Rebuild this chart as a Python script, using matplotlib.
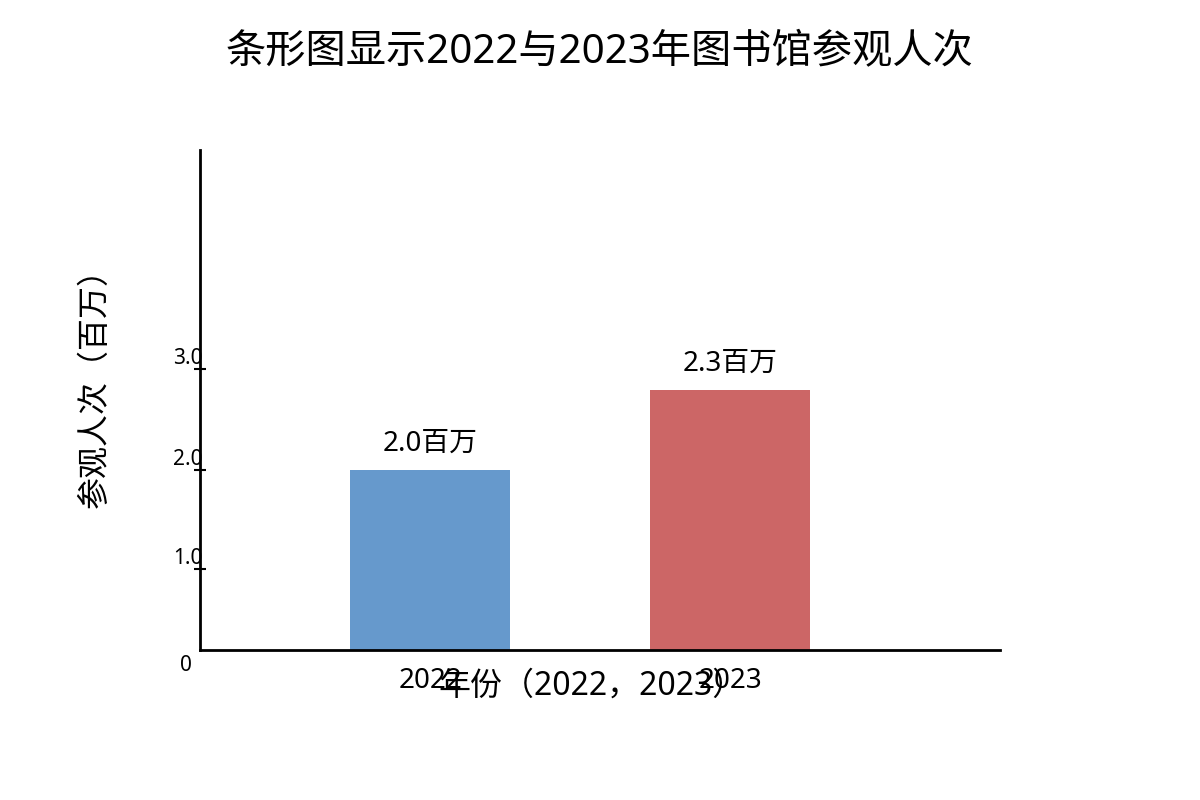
import matplotlib
matplotlib.use("Agg")
import matplotlib.pyplot as plt

plt.rcParams['font.family'] = ['Noto Sans', 'Noto Sans CJK SC', 'DejaVu Sans']

years = ["2022", "2023"]
bar_heights = [1.8, 2.6]          # drawn heights
value_labels = ["2.0百万", "2.3百万"]
colors = ["#6699cc", "#cc6666"]
ytick_pos = [0.81, 1.8, 2.81]
ytick_labels = ["1.0", "2.0", "3.0"]

fig = plt.figure(figsize=(12, 8), dpi=100)
ax = fig.add_axes([200/1200, 150/800, 800/1200, 500/800])

x = list(range(len(years)))
bars = ax.bar(x, bar_heights, width=0.533, color=colors)
for b, lab in zip(bars, value_labels):
    ax.text(b.get_x() + b.get_width()/2, b.get_height() + 0.12, lab,
            ha="center", va="bottom", fontsize=20)

ax.set_xlim(-0.767, 1.9)
ax.set_ylim(0, 5)
ax.set_xticks(x)
ax.set_xticklabels(years, fontsize=20)
ax.tick_params(axis="x", length=0, pad=12)
ax.set_yticks(ytick_pos)
ax.set_yticklabels(ytick_labels, fontsize=15)
ax.tick_params(axis="y", direction="inout", length=8, width=1.5, pad=-6)
for t in ax.get_yticklabels():
    t.set_va("bottom")
ax.text(-0.01, -0.01, "0", transform=ax.transAxes, ha="right", va="top", fontsize=15)

for s in ["top", "right"]:
    ax.spines[s].set_visible(False)
ax.spines["left"].set_linewidth(2)
ax.spines["bottom"].set_linewidth(2)

ax.set_xlabel("年份（2022，2023）", fontsize=23)
ax.xaxis.set_label_coords(0.49, -0.04)
ax.xaxis.label.set_va("top")
ax.set_ylabel("参观人次（百万）", fontsize=23)
ax.yaxis.set_label_coords(-0.11, 0.54)
fig.suptitle("条形图显示2022与2023年图书馆参观人次", fontsize=29, y=0.96)

fig.savefig("out.png", dpi=100)
